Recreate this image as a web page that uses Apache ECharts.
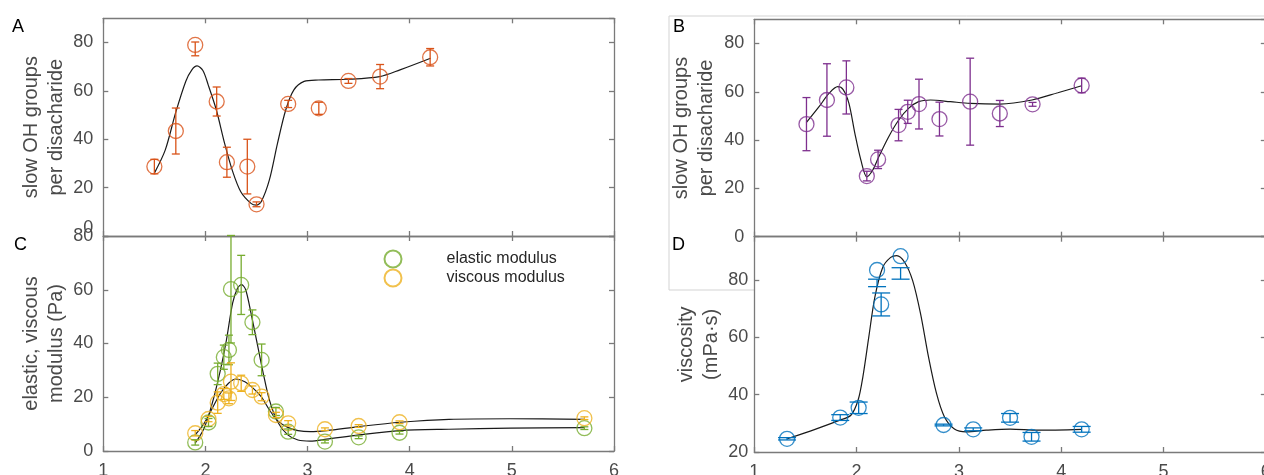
<!DOCTYPE html>
<html><head><meta charset="utf-8">
<script src="https://cdn.jsdelivr.net/npm/echarts/dist/echarts.min.js"></script>
<style>html,body{margin:0;padding:0;background:#fff}#c{width:1264px;height:475px}</style>
</head><body><div id="c"></div>
<script>
// ---------- Panel A: slow OH groups (orange) ----------
const aX   = [1.5, 1.71, 1.9, 2.11, 2.21, 2.41, 2.5, 2.81, 3.11, 3.4, 3.71, 4.2];
const aY   = [28.7, 43.4, 79, 55.6, 30.5, 28.7, 13.1, 54.6, 52.8, 64.1, 65.9, 73.9];
const aErr = [3, 9.5, 4.5, 6, 6.2, 11.3, 1, 1.5, 2.5, 1, 5, 3.6];
const aFit = [[1.499,25.9],[1.607,35.6],[1.707,50.8],[1.807,63.9],[1.867,68.7],[1.918,70.3],[1.975,68.4],[2.027,62.5],[2.107,52.1],[2.187,38.4],[2.267,26.6],[2.346,18.3],[2.446,13.5],[2.498,12.8],[2.546,14.2],[2.626,23.2],[2.706,38.4],[2.786,52.1],[2.866,60.4],[2.966,63.9],[3.106,64.5],[3.397,64.8],[3.705,65.9],[3.905,68.7],[4.204,73.5]];

// ---------- Panel B: slow OH groups (purple) ----------
const bX   = [1.51, 1.71, 1.9, 2.1, 2.21, 2.41, 2.5, 2.61, 2.81, 3.11, 3.4, 3.72, 4.2];
const bY   = [46.6, 56.6, 61.8, 25.1, 32, 46.2, 51.7, 54.9, 48.7, 55.9, 51, 54.8, 62.6];
const bErr = [11, 15, 11, 2, 3.8, 6.5, 4.8, 10.3, 7, 18, 5.4, 0.8, 3];
const bFit = [[1.508,47.2],[1.633,53.8],[1.73,59.3],[1.816,62.1],[1.867,61.0],[1.925,55.2],[1.983,42.8],[2.042,31.7],[2.1,24.8],[2.158,27.6],[2.217,33.1],[2.314,41.4],[2.412,48.3],[2.508,53.1],[2.606,55.9],[2.723,56.6],[2.917,55.9],[3.111,55.2],[3.403,54.9],[3.715,56.6],[3.967,59.6],[4.2,62.5]];

// ---------- Panel C: elastic / viscous modulus ----------
const cX          = [1.9, 2.03, 2.12, 2.18, 2.23, 2.25, 2.35, 2.46, 2.55, 2.69, 2.81, 3.17, 3.5, 3.9, 5.71];
const elastic     = [3.2, 10.6, 28.7, 34.9, 37.6, 60.2, 61.8, 47.9, 33.9, 14.7, 7.2, 3.5, 5.1, 6.8, 8.5];
const elasticErr  = [1, 1.5, 4, 4.5, 5.5, 20, 11, 4.6, 5.9, 1.5, 1, 0.5, 0.5, 0.5, 0.5];
const viscous     = [6.6, 11.9, 18.0, 21.2, 19.6, 25.8, 25.2, 22.7, 20.2, 13.4, 10.3, 8.1, 9.3, 10.7, 12.2];
const viscousErr  = [1, 1, 4, 2, 2, 7, 3, 1.5, 1.5, 1, 1, 0.5, 0.5, 0.5, 0.5];
const elasticFit  = [[1.899,2.9],[1.987,8.5],[2.067,17.8],[2.147,30.2],[2.206,41.4],[2.266,55.0],[2.314,60.6],[2.354,61.9],[2.394,60.0],[2.446,51.3],[2.506,40.1],[2.566,28.9],[2.626,19.0],[2.706,10.9],[2.806,6.0],[2.906,4.1],[3.026,3.7],[3.186,4.4],[3.505,6.0],[3.905,7.6],[4.384,8.1],[4.984,8.5],[5.711,8.7]];
const viscousFit  = [[1.899,6.0],[1.987,10.3],[2.067,15.9],[2.147,21.5],[2.226,25.2],[2.298,26.8],[2.386,25.8],[2.466,23.4],[2.546,20.2],[2.626,15.3],[2.706,11.3],[2.806,8.8],[2.906,7.6],[3.026,7.2],[3.186,7.6],[3.505,9.1],[3.905,10.7],[4.384,11.8],[4.984,12.0],[5.711,11.8]];

// ---------- Panel D: viscosity ----------
const dX   = [1.32, 1.84, 2.02, 2.2, 2.24, 2.43, 2.85, 3.14, 3.5, 3.71, 4.2];
const dY   = [24.6, 32, 35.4, 83.4, 71.4, 88.2, 29.4, 27.9, 31.9, 25.3, 27.9];
const dErr = [0.4, 1, 2, 5.8, 4, 4, 0.3, 0.5, 1.5, 1.5, 1];
const dFit = [[1.322,24.6],[1.594,27.9],[1.836,31.1],[1.944,32.8],[2.015,38.1],[2.061,46.1],[2.119,60.0],[2.178,73.9],[2.255,84.3],[2.333,87.8],[2.392,88.4],[2.469,86.1],[2.548,79.7],[2.625,68.2],[2.703,53.1],[2.781,40.4],[2.858,32.3],[2.956,28.0],[3.072,27.0],[3.267,27.6],[3.501,28.0],[3.773,27.6],[4.2,27.9]];

// axis ranges / labels
const xRange = [1, 6];
const yRangeA = [0, 90], yRangeB = [0, 90], yRangeC = [0, 80], yRangeD = [20, 95];
const nameA = 'slow OH groups\nper disacharide';
const nameB = 'slow OH groups\nper disacharide';
const nameC = 'elastic, viscous\nmodulus (Pa)';
const nameD = 'viscosity\n(mPa·s)';
const panelLabels = ['A', 'B', 'C', 'D'];

const FONT = '"Liberation Sans", Arial, Helvetica, sans-serif';
const AXC = '#7a7a7a', TXT = '#4a4a4a';
const COL = {a:'#D95319', b:'#7E2F8E', g:'#77AC30', o:'#EDB120', d:'#0072BD'};

const grids = [
  {left:103.3, top:18.3, width:510.7, height:217.7, outerBoundsMode:'none'},   // A
  {left:103.3, top:236,  width:510.7, height:215,   outerBoundsMode:'none'},   // C
  {left:754.3, top:19.3, width:511.5, height:217.4, outerBoundsMode:'none'},   // B
  {left:754.3, top:236.7,width:511.5, height:215.3, outerBoundsMode:'none'}    // D
];

const lineCommon = {show:true, onZero:false, lineStyle:{color:AXC, width:1.3}};
const tickCommon = {show:true, inside:true, length:5, lineStyle:{color:AXC, width:1.3}};

const xAxis = [], yAxis = [];
function addX(g, showLabels) {
  xAxis.push({type:'value', gridIndex:g, min:xRange[0], max:xRange[1], interval:1, position:'bottom',
    axisLine:lineCommon, axisTick:tickCommon, splitLine:{show:false},
    axisLabel:{show:showLabels, fontSize:18, color:TXT, fontFamily:FONT, margin:11}});
  xAxis.push({type:'value', gridIndex:g, min:xRange[0], max:xRange[1], interval:1, position:'top',
    axisLine:lineCommon, axisTick:tickCommon, splitLine:{show:false}, axisLabel:{show:false}});
}
function addY(g, range, name, gap, margin, raiseZero) {
  const lab = {fontSize:18, color:TXT, fontFamily:FONT, margin:margin, showMaxLabel:range[1] % 20 === 0};
  if (raiseZero) {
    lab.formatter = v => v === 0 ? '{z|0}' : String(v);
    lab.rich = {z:{fontSize:18, color:TXT, fontFamily:FONT, padding:[0,0,15,0]}};
  }
  yAxis.push({type:'value', gridIndex:g, min:range[0], max:range[1], interval:20, position:'left',
    axisLine:lineCommon, axisTick:tickCommon, splitLine:{show:false}, axisLabel:lab,
    name:name, nameLocation:'middle', nameGap:gap, nameRotate:90,
    nameTextStyle:{fontSize:20, lineHeight:25, color:TXT, fontFamily:FONT}});
  yAxis.push({type:'value', gridIndex:g, min:range[0], max:range[1], interval:20, position:'right',
    axisLine:lineCommon, axisTick:tickCommon, splitLine:{show:false}, axisLabel:{show:false}});
}
addX(0, false); addY(0, yRangeA, nameA, 29, 10, true);
addX(1, true);  addY(1, yRangeC, nameC, 29, 10, false);
addX(2, false); addY(2, yRangeB, nameB, 35, 10, false);
addX(3, true);  addY(3, yRangeD, nameD, 30, 6, false);

function errRender(capHalf, color) {
  return function (params, api) {
    const x = api.value(0), lo = api.value(1), hi = api.value(2);
    const p1 = api.coord([x, hi]), p2 = api.coord([x, lo]);
    const st = {stroke:color, lineWidth:1.3, fill:null};
    return {type:'group', children:[
      {type:'line', shape:{x1:p1[0], y1:p1[1], x2:p2[0], y2:p2[1]}, style:st},
      {type:'line', shape:{x1:p1[0]-capHalf, y1:p1[1], x2:p1[0]+capHalf, y2:p1[1]}, style:st},
      {type:'line', shape:{x1:p2[0]-capHalf, y1:p2[1], x2:p2[0]+capHalf, y2:p2[1]}, style:st}
    ]};
  };
}
function panelSeries(g, xs, ys, errs, fit, color, cap, name) {
  const ax = {xAxisIndex:2*g, yAxisIndex:2*g};
  return [
    Object.assign({type:'line', data:fit, smooth:0.3, symbol:'none', silent:true,
      lineStyle:{color:'#1a1a1a', width:1.2}, z:2}, ax),
    Object.assign({type:'scatter', name:name, data:xs.map((x,i)=>[x, ys[i]]), symbol:'circle', symbolSize:15,
      itemStyle:{color:'rgba(0,0,0,0)', borderColor:color, borderWidth:1.3}, z:3}, ax),
    Object.assign({type:'custom', data:xs.map((x,i)=>[x, ys[i]-errs[i], Math.min(ys[i]+errs[i], 80.2)]),
      renderItem:errRender(cap, color), z:4}, ax)
  ];
}

const series = [].concat(
  panelSeries(0, aX, aY, aErr, aFit, COL.a, 4, 'A'),
  panelSeries(1, cX, elastic, elasticErr, elasticFit, COL.g, 4, 'elastic modulus'),
  panelSeries(1, cX, viscous, viscousErr, viscousFit, COL.o, 4, 'viscous modulus'),
  panelSeries(2, bX, bY, bErr, bFit, COL.b, 4, 'B'),
  panelSeries(3, dX, dY, dErr, dFit, COL.d, 9, 'D')
);

const labelPos = [[12,18],[673,18],[14,236],[672,236]];
const graphic = panelLabels.map((t,i)=>({type:'text', left:labelPos[i][0], top:labelPos[i][1],
  style:{text:t, fontSize:18, fill:'#000', fontFamily:FONT}}));
graphic.push({type:'polyline', shape:{points:[[1264,16],[669,16],[669,290],[754,290]]},
  style:{stroke:'#d3d3d3', lineWidth:1, fill:null}, z:-1});

const chart = echarts.init(document.getElementById('c'), null, {renderer:'canvas'});
chart.setOption({
  animation:false,
  backgroundColor:'#fff',
  grid:grids,
  xAxis:xAxis, yAxis:yAxis,
  legend:{data:['elastic modulus','viscous modulus'], orient:'vertical', left:383.5, top:249.5, padding:0,
    itemWidth:17, itemHeight:17, itemGap:0, selectedMode:false,
    textStyle:{fontSize:16, lineHeight:17, color:'#262626', fontFamily:FONT, padding:[0,0,0,40]}},
  graphic:graphic,
  series:series
});
</script></body></html>
